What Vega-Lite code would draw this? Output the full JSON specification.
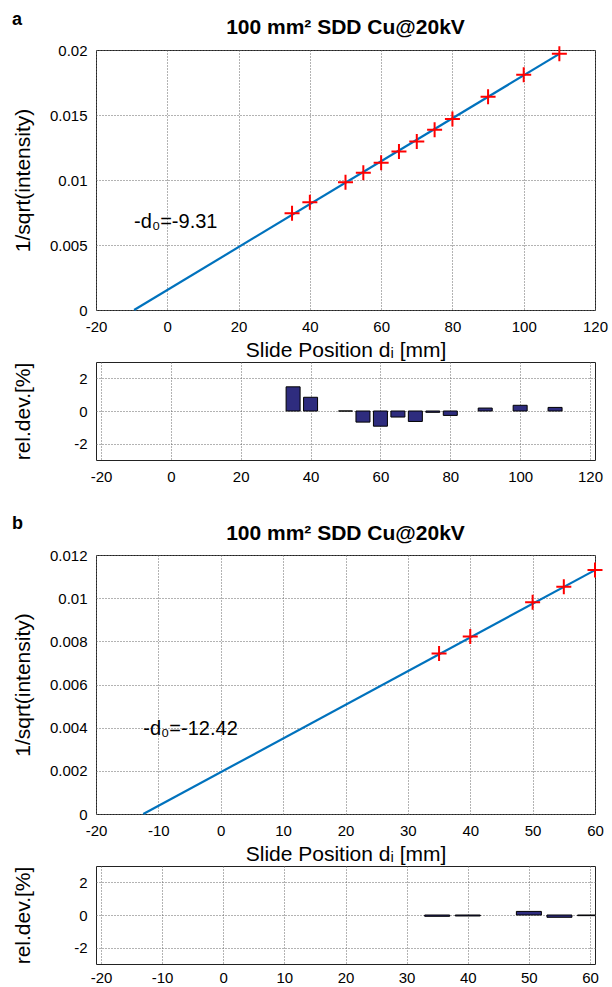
{
  "$schema": "https://vega.github.io/schema/vega-lite/v6.json",
  "padding": {"left": 11, "top": 10, "right": 5, "bottom": 0},
  "background": "white",
  "config": {
    "font": "Liberation Sans",
    "view": {"stroke": "#222", "strokeWidth": 1},
    "axis": {
      "grid": true, "gridDash": [1, 2], "gridColor": "#666", "gridOpacity": 1, "gridWidth": 1,
      "domain": false, "ticks": false, "labelFlush": false, "labelOverlap": false,
      "labelFontSize": 15, "labelColor": "#000", "labelPadding": 9, "labelFont": "Liberation Sans",
      "titleFontSize": 21, "titleFontWeight": "normal", "titleColor": "#000", "titleFont": "Liberation Sans",
      "labelExpr": "'' + datum.value"
    },
    "title": {"fontSize": 21, "fontWeight": "bold", "color": "#000", "font": "Liberation Sans"}
  },
  "datasets": {
    "a_pts": [
      {"x": 35, "y": 0.00745}, {"x": 40, "y": 0.00828}, {"x": 50, "y": 0.00983}, {"x": 55, "y": 0.01055},
      {"x": 60, "y": 0.01132}, {"x": 65, "y": 0.0122}, {"x": 70, "y": 0.01297}, {"x": 75, "y": 0.01386},
      {"x": 80, "y": 0.01469}, {"x": 90, "y": 0.0164}, {"x": 100, "y": 0.0181}, {"x": 110, "y": 0.01971}
    ],
    "a_fit": [{"x": -9.31, "y": 0}, {"x": 110, "y": 0.0197}],
    "a_res": [
      {"x": 35, "r": 1.48}, {"x": 40, "r": 0.84}, {"x": 50, "r": 0}, {"x": 55, "r": -0.68},
      {"x": 60, "r": -0.93}, {"x": 65, "r": -0.37}, {"x": 70, "r": -0.64}, {"x": 75, "r": -0.08},
      {"x": 80, "r": -0.27}, {"x": 90, "r": 0.18}, {"x": 100, "r": 0.35}, {"x": 110, "r": 0.22}
    ],
    "a_note": [{"x": -9.31, "y": 0.0063, "label": "-d₀=-9.31"}],
    "b_pts": [
      {"x": 35, "y": 0.00744}, {"x": 40, "y": 0.00822}, {"x": 50, "y": 0.00981}, {"x": 55, "y": 0.01053}, {"x": 60, "y": 0.0113}
    ],
    "b_fit": [{"x": -12.42, "y": 0}, {"x": 60, "y": 0.0113}],
    "b_res": [
      {"x": 35, "r": -0.08}, {"x": 40, "r": -0.06}, {"x": 50, "r": 0.22}, {"x": 55, "r": -0.14}, {"x": 60, "r": -0.04}
    ],
    "b_note": [{"x": -12.42, "y": 0.00365, "label": "-d₀=-12.42"}]
  },
  "spacing": 29,
  "resolve": {"scale": {"x": "independent", "y": "independent"}},
  "vconcat": [
    {
      "title": {"text": "a", "anchor": "start", "offset": -12, "fontSize": 18},
      "spacing": 0,
      "resolve": {"scale": {"x": "independent", "y": "independent"}},
      "vconcat": [
        {
          "width": 499, "height": 260,
          "title": {"text": "100 mm² SDD Cu@20kV", "offset": 4},
          "layer": [
            {
              "data": {"name": "a_fit"},
              "mark": {"type": "line", "color": "#0072BD", "strokeWidth": 2.2},
              "encoding": {
                "x": {"field": "x", "type": "quantitative", "scale": {"domain": [-20, 120], "nice": false},
                      "axis": {"values": [-20, 0, 20, 40, 60, 80, 100, 120], "title": "Slide Position dᵢ [mm]", "titlePadding": 5}},
                "y": {"field": "y", "type": "quantitative", "scale": {"domain": [0, 0.02], "nice": false},
                      "axis": {"values": [0, 0.005, 0.01, 0.015, 0.02], "title": "1/sqrt(intensity)", "titlePadding": 16}}
              }
            },
            {
              "data": {"name": "a_pts"},
              "mark": {"type": "point", "shape": "M-1,0L1,0M0,-1L0,1", "size": 225, "filled": false, "stroke": "#FF0000", "strokeWidth": 2, "opacity": 1},
              "encoding": {
                "x": {"field": "x", "type": "quantitative"},
                "y": {"field": "y", "type": "quantitative"}
              }
            },
            {
              "data": {"name": "a_note"},
              "mark": {"type": "text", "align": "left", "baseline": "alphabetic", "fontSize": 20, "color": "#000"},
              "encoding": {
                "x": {"field": "x", "type": "quantitative"},
                "y": {"field": "y", "type": "quantitative"},
                "text": {"field": "label"}
              }
            }
          ]
        },
        {
          "width": 499, "height": 98,
          "layer": [
            {
              "mark": {"type": "rule", "color": "#333", "strokeWidth": 1},
              "encoding": {"y": {"datum": 0, "type": "quantitative"}}
            },
            {
              "data": {"name": "a_res"},
              "mark": {"type": "bar", "size": 14, "color": "#2E2C7E", "stroke": "#000", "strokeWidth": 1, "clip": true},
              "encoding": {
                "x": {"field": "x", "type": "quantitative", "scale": {"domain": [-20, 120], "nice": false},
                      "axis": {"values": [-20, 0, 20, 40, 60, 80, 100, 120], "title": null}},
                "y": {"field": "r", "type": "quantitative", "scale": {"domain": [-3, 3], "nice": false},
                      "axis": {"values": [-2, 0, 2], "title": "rel.dev.[%]", "titlePadding": 40}}
              }
            }
          ]
        }
      ]
    },
    {
      "title": {"text": "b", "anchor": "start", "offset": -10, "fontSize": 18},
      "spacing": 0,
      "resolve": {"scale": {"x": "independent", "y": "independent"}},
      "vconcat": [
        {
          "width": 499, "height": 259,
          "title": {"text": "100 mm² SDD Cu@20kV", "offset": 4},
          "layer": [
            {
              "data": {"name": "b_fit"},
              "mark": {"type": "line", "color": "#0072BD", "strokeWidth": 2.2},
              "encoding": {
                "x": {"field": "x", "type": "quantitative", "scale": {"domain": [-20, 60], "nice": false},
                      "axis": {"values": [-20, -10, 0, 10, 20, 30, 40, 50, 60], "title": "Slide Position dᵢ [mm]", "titlePadding": 5}},
                "y": {"field": "y", "type": "quantitative", "scale": {"domain": [0, 0.012], "nice": false},
                      "axis": {"values": [0, 0.002, 0.004, 0.006, 0.008, 0.01, 0.012], "title": "1/sqrt(intensity)", "titlePadding": 16}}
              }
            },
            {
              "data": {"name": "b_pts"},
              "mark": {"type": "point", "shape": "M-1,0L1,0M0,-1L0,1", "size": 225, "filled": false, "stroke": "#FF0000", "strokeWidth": 2, "opacity": 1},
              "encoding": {
                "x": {"field": "x", "type": "quantitative"},
                "y": {"field": "y", "type": "quantitative"}
              }
            },
            {
              "data": {"name": "b_note"},
              "mark": {"type": "text", "align": "left", "baseline": "alphabetic", "fontSize": 20, "color": "#000"},
              "encoding": {
                "x": {"field": "x", "type": "quantitative"},
                "y": {"field": "y", "type": "quantitative"},
                "text": {"field": "label"}
              }
            }
          ]
        },
        {
          "width": 499, "height": 98,
          "layer": [
            {
              "mark": {"type": "rule", "color": "#333", "strokeWidth": 1},
              "encoding": {"y": {"datum": 0, "type": "quantitative"}}
            },
            {
              "data": {"name": "b_res"},
              "mark": {"type": "bar", "size": 25, "color": "#2E2C7E", "stroke": "#000", "strokeWidth": 1, "clip": true},
              "encoding": {
                "x": {"field": "x", "type": "quantitative", "scale": {"domain": [-20, 60], "nice": false},
                      "axis": {"values": [-20, -10, 0, 10, 20, 30, 40, 50, 60], "title": null, "labelPadding": 6}},
                "y": {"field": "r", "type": "quantitative", "scale": {"domain": [-3, 3], "nice": false},
                      "axis": {"values": [-2, 0, 2], "title": "rel.dev.[%]", "titlePadding": 40}}
              }
            }
          ]
        }
      ]
    }
  ]
}
